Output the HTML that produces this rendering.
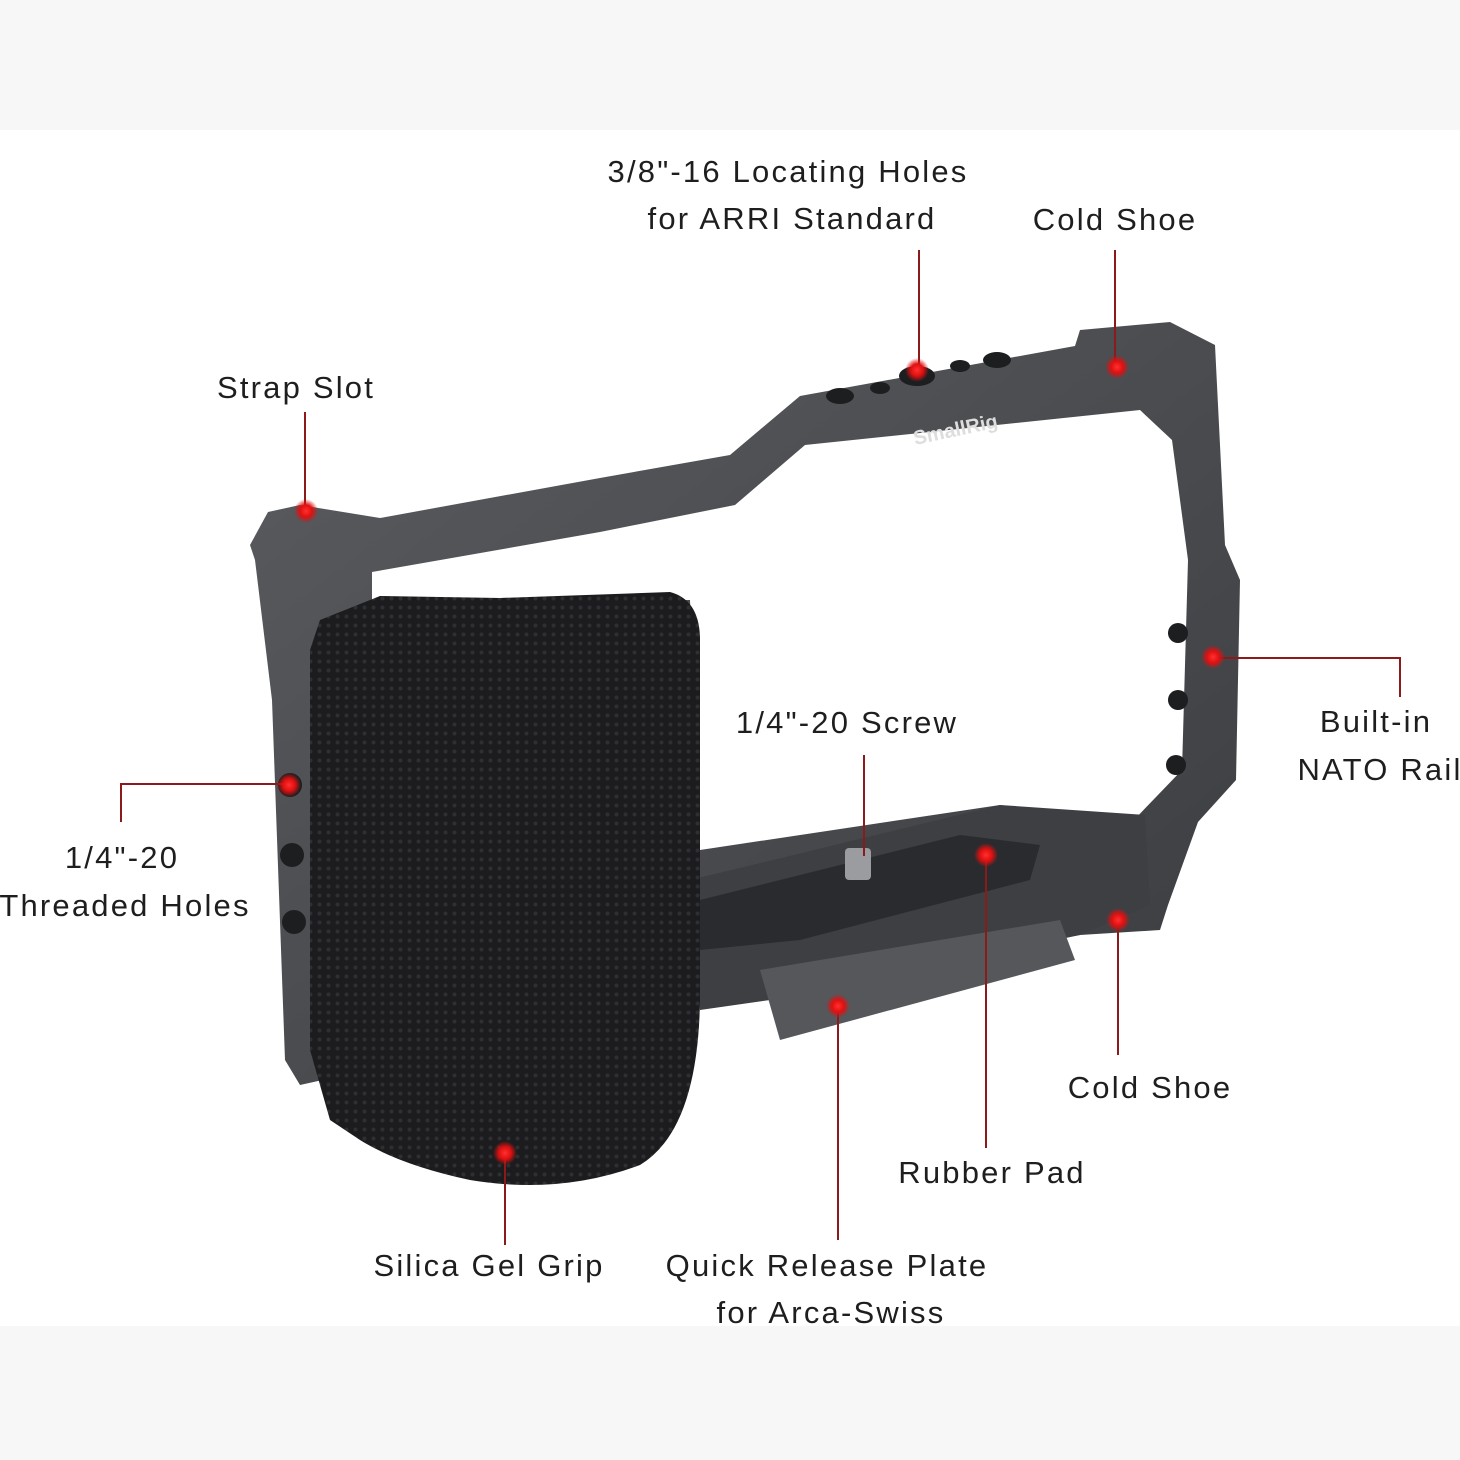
<!DOCTYPE html>
<html><head><meta charset="utf-8"><style>
html,body{margin:0;padding:0;}
body{width:1460px;height:1460px;background:#fff;position:relative;overflow:hidden;font-family:"Liberation Sans",sans-serif;}
.band{position:absolute;left:0;width:1460px;background:#f7f7f7;}
.t{position:absolute;font-size:31px;letter-spacing:2.2px;color:#1e1e1e;white-space:nowrap;transform:translateX(-50%);line-height:1;}
svg{position:absolute;left:0;top:0;}
</style></head><body>
<div class="band" style="top:0;height:130px"></div>
<div class="band" style="top:1326px;height:134px"></div>
<svg width="1460" height="1460" viewBox="0 0 1460 1460">
<defs>
<radialGradient id="dot"><stop offset="0" stop-color="#ff3030"/><stop offset="0.5" stop-color="#e01010"/><stop offset="1" stop-color="#e01010" stop-opacity="0"/></radialGradient>
<linearGradient id="metal" x1="0" y1="0" x2="1" y2="1"><stop offset="0" stop-color="#5a5c60"/><stop offset="1" stop-color="#3a3c40"/></linearGradient>
<pattern id="dots" width="9" height="9" patternUnits="userSpaceOnUse"><rect width="9" height="9" fill="#1c1c1e"/><circle cx="4.5" cy="4.5" r="2" fill="#2e2f32"/></pattern>
</defs>
<path fill="url(#metal)" fill-rule="evenodd" d="M250 545 L268 512 L300 505 L380 518 L600 478 L730 455 L800 396 L1075 346 L1080 330 L1170 322 L1215 345 L1225 545 L1240 580 L1236 780 L1198 822 L1168 905 L1160 930 L1080 935 L700 1000 L640 1010 L300 1085 L285 1060 L272 700 L255 560 Z
M372 572 L600 532 L735 505 L805 445 L1140 410 L1172 440 L1188 560 L1182 770 L1132 822 L1000 805 L700 850 L690 600 L372 600 Z"/>
<path fill="#3d3f43" d="M690 880 L1000 805 L1145 815 L1150 905 L1080 935 L770 1000 L700 1010 Z"/>
<path fill="#2a2b2e" d="M700 900 L960 835 L1040 845 L1030 880 L800 940 L700 950 Z"/>
<path fill="#55575b" d="M760 970 L1060 920 L1075 960 L780 1040 Z"/>
<rect x="845" y="848" width="26" height="32" rx="4" fill="#9a9ca0"/>
<g fill="#1d1e20"><circle cx="290" cy="785" r="12"/><circle cx="292" cy="855" r="12"/><circle cx="294" cy="922" r="12"/>
<circle cx="1178" cy="633" r="10"/><circle cx="1178" cy="700" r="10"/><circle cx="1176" cy="765" r="10"/>
<ellipse cx="840" cy="396" rx="14" ry="8"/><ellipse cx="880" cy="388" rx="10" ry="6"/><ellipse cx="917" cy="376" rx="18" ry="10"/><ellipse cx="960" cy="366" rx="10" ry="6"/><ellipse cx="997" cy="360" rx="14" ry="8"/></g>
<text x="915" y="445" font-family="Liberation Sans" font-weight="bold" font-size="20" fill="#ddd" transform="rotate(-12 915 445)">SmallRig</text>
<path fill="url(#dots)" d="M320 620 L380 596 L500 598 L670 592 Q700 600 700 640 L700 1000 Q698 1130 640 1165 Q560 1195 470 1180 Q400 1165 360 1140 L330 1120 L310 1050 L310 650 Z"/>
<g stroke="#8b1a1a" stroke-width="2" fill="none">
<path d="M919 250 V368"/><path d="M1115 250 V365"/><path d="M305 412 V510"/>
<path d="M1213 658 H1400 V697"/><path d="M289 784 H121 V822"/>
<path d="M864 755 V856"/><path d="M986 855 V1148"/><path d="M1118 920 V1055"/>
<path d="M838 1006 V1240"/><path d="M505 1153 V1245"/>
</g>
<g fill="url(#dot)">
<circle cx="917" cy="370" r="12"/><circle cx="1117" cy="367" r="12"/><circle cx="306" cy="511" r="12"/>
<circle cx="1213" cy="657" r="12"/><circle cx="289" cy="785" r="12"/><circle cx="986" cy="855" r="12"/>
<circle cx="1118" cy="920" r="12"/><circle cx="838" cy="1006" r="12"/><circle cx="505" cy="1153" r="12"/>
</g>
</svg>
<div class="t" style="left:788px;top:156px">3/8"-16 Locating Holes</div>
<div class="t" style="left:792px;top:203px">for ARRI Standard</div>
<div class="t" style="left:1115px;top:204px">Cold Shoe</div>
<div class="t" style="left:296px;top:372px">Strap Slot</div>
<div class="t" style="left:847px;top:707px">1/4"-20 Screw</div>
<div class="t" style="left:1376px;top:706px">Built-in</div>
<div class="t" style="left:1380px;top:754px">NATO Rail</div>
<div class="t" style="left:122px;top:842px">1/4"-20</div>
<div class="t" style="left:125px;top:890px">Threaded Holes</div>
<div class="t" style="left:1150px;top:1072px">Cold Shoe</div>
<div class="t" style="left:992px;top:1157px">Rubber Pad</div>
<div class="t" style="left:489px;top:1250px">Silica Gel Grip</div>
<div class="t" style="left:827px;top:1250px">Quick Release Plate</div>
<div class="t" style="left:831px;top:1297px">for Arca-Swiss</div>
</body></html>
